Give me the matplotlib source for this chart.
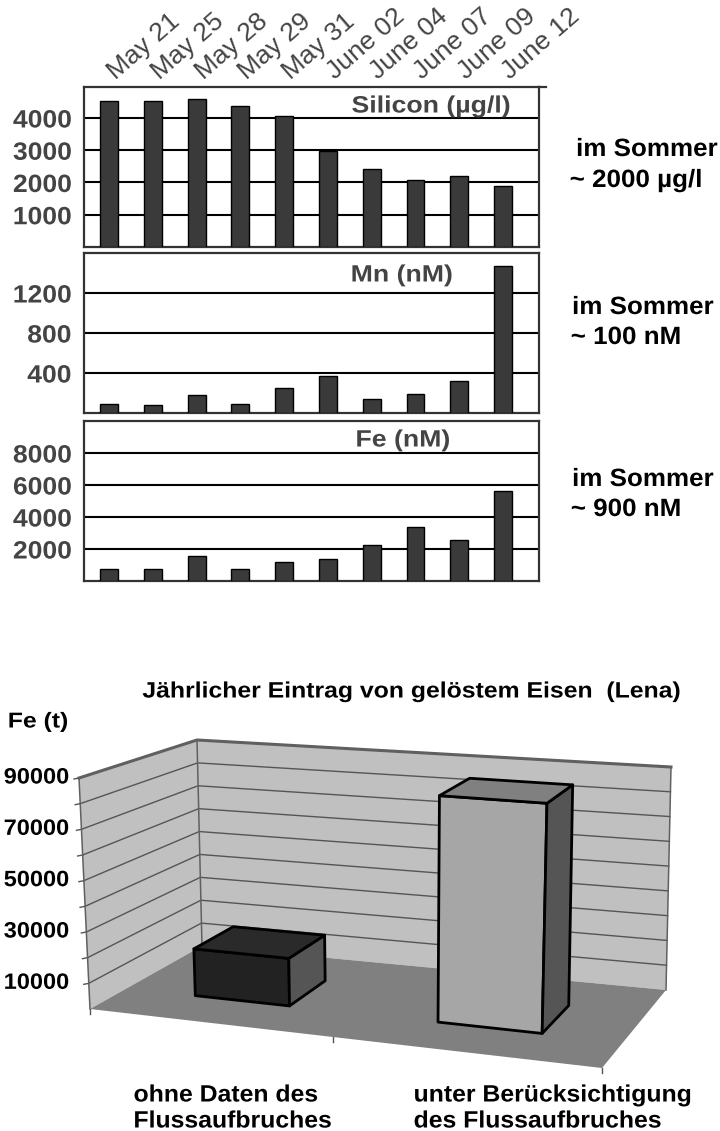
import matplotlib
matplotlib.use('Agg')
import matplotlib.pyplot as plt
import matplotlib.patheffects as pe
from matplotlib.patches import Polygon
from matplotlib.transforms import Affine2D, ScaledTranslation

plt.rcParams['font.family'] = ['Liberation Sans', 'DejaVu Sans']

# Data
dates = ['May 21', 'May 25', 'May 28', 'May 29', 'May 31',
         'June 02', 'June 04', 'June 07', 'June 09', 'June 12']
silicon = [4520, 4520, 4580, 4380, 4060, 2990, 2410, 2070, 2210, 1880]
manganese = [93, 77, 177, 93, 247, 367, 143, 193, 317, 1473]
iron = [730, 730, 1560, 730, 1210, 1350, 2230, 3400, 2560, 5650]
silicon_ticks = [1000, 2000, 3000, 4000]
manganese_ticks = [400, 800, 1200]
iron_ticks = [2000, 4000, 6000, 8000]

lena_values = [18700, 87000]
lena_ticks = [10000, 20000, 30000, 40000, 50000, 60000, 70000, 80000, 90000]
lena_labels = [10000, 30000, 50000, 70000, 90000]

W, H = 720, 1131
GRAY = '#444444'


class Stretch(pe.AbstractPathEffect):
    # the lettering in the original is wider than the font, widen it about its middle
    def __init__(self, sx):
        super().__init__()
        self.sx = sx

    def draw_path(self, renderer, gc, tpath, affine, rgbFace=None):
        box = tpath.get_extents()
        cx = (box.x0 + box.x1) / 2
        t = Affine2D().translate(-cx, 0).scale(self.sx, 1).translate(cx, 0)
        renderer.draw_path(gc, tpath, t + affine, rgbFace)


fig = plt.figure(figsize=(W / 100, H / 100), dpi=100)

# Full page axes in pixels, for the 3D chart and the loose texts
page = fig.add_axes([0, 0, 1, 1])
page.set_xlim(0, W)
page.set_ylim(H, 0)
page.axis('off')


def panel(top, bottom, values, ticks, ymax, title, title_x, title_y):
    ax = fig.add_axes([84 / W, 1 - bottom / H, 455 / W, (bottom - top) / H])
    ax.bar(range(10), values, width=0.41, color='#3a3a3a', edgecolor='black', linewidth=1, zorder=3)
    ax.set_xlim(-0.57, 9.82)
    ax.set_ylim(0, ymax)
    ax.set_xticks([])
    ax.set_yticks(ticks)
    ax.set_yticklabels([str(t) for t in ticks], fontsize=18, fontweight='bold', color=GRAY,
                       path_effects=[Stretch(1.06)])
    ax.tick_params(axis='y', length=0, pad=10)
    ax.grid(axis='y', color='black', linewidth=1.5, zorder=1)
    ax.set_axisbelow(True)
    for s in ax.spines.values():
        s.set_color('#333333')
        s.set_linewidth(1.6)
    page.text(title_x, title_y, title, fontsize=17, fontweight='bold', color=GRAY, ha='center',
              va='center', zorder=10, path_effects=[Stretch(1.13)])
    return ax


ax1 = panel(87, 247, silicon, silicon_ticks, 4960, 'Silicon (µg/l)', 431, 106)
panel(253, 413, manganese, manganese_ticks, 1600, 'Mn (nM)', 402, 275)
panel(421, 581, iron, iron_ticks, 10000, 'Fe (nM)', 403, 440)
for ax in fig.axes[1:]:
    ax.set_zorder(1)
page.set_zorder(2)

# Dates on top of the first panel
ax1.xaxis.tick_top()
ax1.set_xticks(range(10))
ax1.set_xticklabels(dates, fontsize=19, color=GRAY, rotation=41, ha='left', rotation_mode='anchor')
ax1.tick_params(axis='x', length=0, pad=2)
shift = ScaledTranslation(10 / 100, 0, fig.dpi_scale_trans)
for lab in ax1.get_xticklabels():
    lab.set_transform(lab.get_transform() + shift)
page.plot([539, 546], [87, 87], color='#333333', linewidth=1.6)

# Side notes
notes = [('im Sommer', 647, 149), ('~ 2000 µg/l', 636, 180),
         ('im Sommer', 643, 307), ('~ 100 nM', 626, 337),
         ('im Sommer', 643, 479), ('~ 900 nM', 626, 509)]
for txt, x, y in notes:
    page.text(x, y, txt, fontsize=18, fontweight='bold', color='black', ha='center', va='center',
              path_effects=[Stretch(1.04)])

# Corners of the 3D box in pixels: (side, depth, height)
corners = {(0, 0, 0): (90, 1009), (1, 0, 0): (602, 1068), (0, 1, 0): (202, 946), (1, 1, 0): (666, 990),
           (0, 0, 1): (79, 778), (1, 0, 1): (611, 818), (0, 1, 1): (197, 740), (1, 1, 1): (671, 767)}
LENA_MAX = 90000


def proj(cat, depth, val):
    # category position 0..2, depth 0..1, value -> page pixels
    u = cat / 2
    u = u * 0.905 / (1 - 0.095 * u)
    v = val / LENA_MAX
    px, py = 0, 0
    for (a, b, c), (x, y) in corners.items():
        k = (u if a else 1 - u) * (depth if b else 1 - depth) * (v if c else 1 - v)
        px += k * x
        py += k * y
    return px, py


def face(points, color, edge='none', lw=0, z=3):
    page.add_patch(Polygon([proj(*p) for p in points], closed=True, facecolor=color,
                           edgecolor=edge, linewidth=lw, joinstyle='round', zorder=z))


# Walls and floor
face([(0, 0, 0), (0, 1, 0), (0, 1, LENA_MAX), (0, 0, LENA_MAX)], '#c0c0c0', z=1)
face([(0, 1, 0), (2, 1, 0), (2, 1, LENA_MAX), (0, 1, LENA_MAX)], '#c0c0c0', z=1)
for t in lena_ticks:
    page.plot(*zip(proj(0, 0, t), proj(0, 1, t), proj(2, 1, t)), color='#555555', linewidth=1, zorder=2)
    x, y = proj(0, 0, t)
    page.plot([x - 5, x], [y + 1, y], color='#555555', linewidth=1, zorder=2)
face([(0, 0, 0), (2, 0, 0), (2, 1, 0), (0, 1, 0)], '#808080', z=2.5)
page.plot(*zip(proj(0, 0, LENA_MAX), proj(0, 1, LENA_MAX), proj(2, 1, LENA_MAX)),
          color='#606060', linewidth=2.2, zorder=2)
for a, b in [(proj(0, 0, 0), proj(0, 0, LENA_MAX)), (proj(0, 1, 0), proj(0, 1, LENA_MAX)),
             (proj(2, 1, 0), proj(2, 1, LENA_MAX))]:
    page.plot(*zip(a, b), color='#606060', linewidth=1.1, zorder=2)
for c in [0, 1, 2]:
    x, y = proj(c, 0, 0)
    page.plot([x, x], [y, y + 5], color='#555555', linewidth=1, zorder=2)

# Bars
bar_colors = [('#222222', '#555555', '#2a2a2a'), ('#a6a6a6', '#555555', '#808080')]
for i, val in enumerate(lena_values):
    x0, x1 = i + 0.3, i + 0.7
    d0, d1 = 0.33, 0.7
    front, side, top = bar_colors[i]
    face([(x0, d0, 0), (x1, d0, 0), (x1, d0, val), (x0, d0, val)], front, 'black', 2)
    face([(x1, d0, 0), (x1, d1, 0), (x1, d1, val), (x1, d0, val)], side, 'black', 2)
    face([(x0, d0, val), (x1, d0, val), (x1, d1, val), (x0, d1, val)], top, 'black', 2)

# Texts of the 3D chart
for t in lena_labels:
    y = proj(0, 0, t)[1]
    page.text(36.5, y, str(t), fontsize=16, fontweight='bold', ha='center', va='center',
              path_effects=[Stretch(1.06)])
page.text(38, 722, 'Fe (t)', fontsize=15.5, fontweight='bold', ha='center', va='center',
          path_effects=[Stretch(1.15)])
page.text(411, 692, 'Jährlicher Eintrag von gelöstem Eisen  (Lena)', fontsize=16, fontweight='bold',
          ha='center', va='center', path_effects=[Stretch(1.115)])
cat_lines = [('ohne Daten des', 226, 1095), ('Flussaufbruches', 233, 1121),
             ('unter Berücksichtigung', 553, 1095), ('des Flussaufbruches', 538, 1121)]
for txt, x, y in cat_lines:
    page.text(x, y, txt, fontsize=17, fontweight='bold', ha='center', va='center',
              path_effects=[Stretch(1.05)])

plt.savefig('out.png', dpi=100)
